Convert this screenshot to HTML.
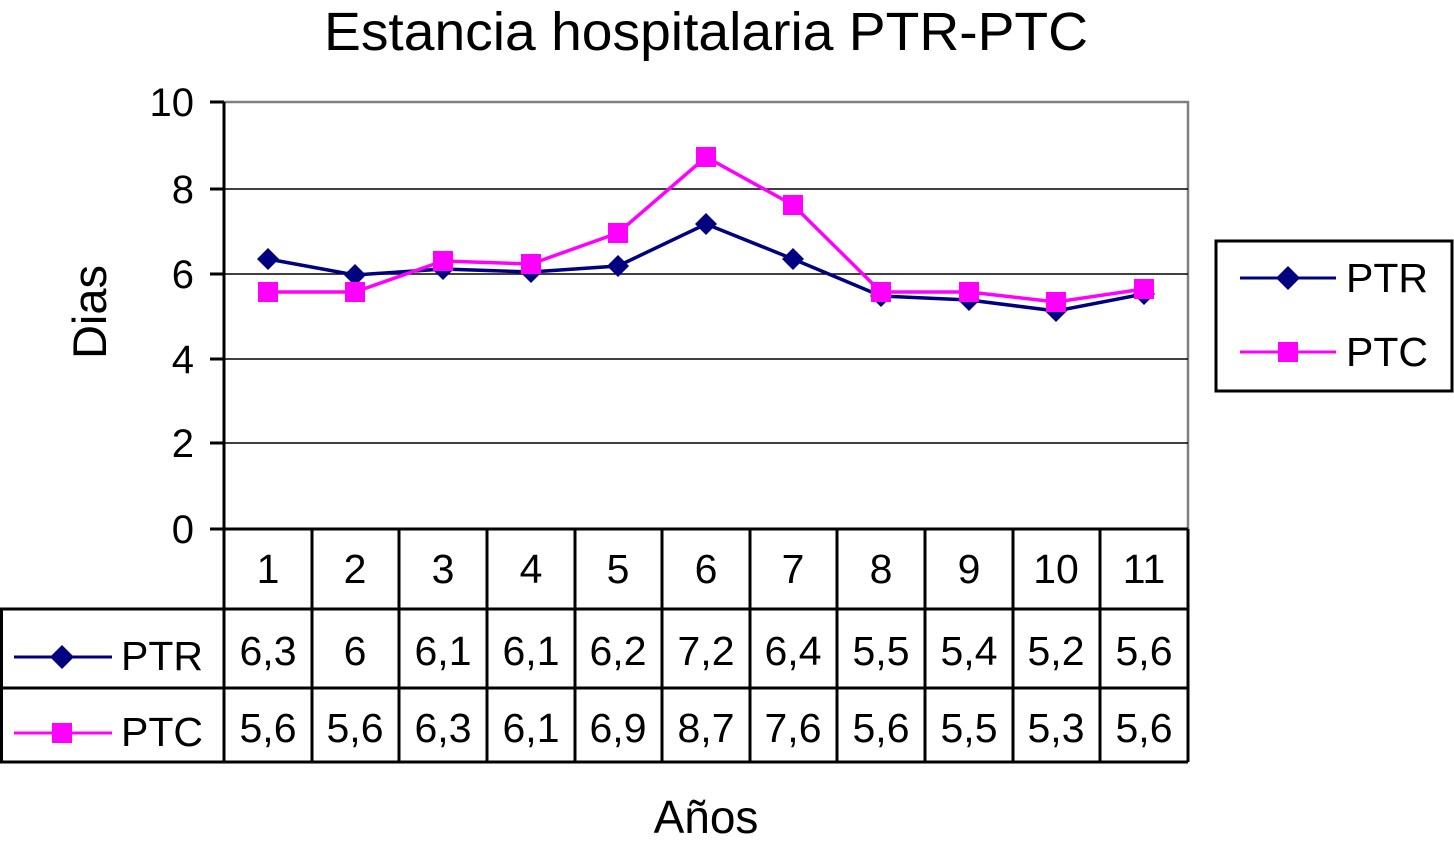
<!DOCTYPE html>
<html><head><meta charset="utf-8"><style>
html,body{margin:0;padding:0;background:#fff;}
svg{display:block;font-family:"Liberation Sans",Arial,sans-serif;}
</style></head><body>
<svg width="1454" height="843" viewBox="0 0 1454 843" xmlns="http://www.w3.org/2000/svg">
<text x="706" y="50" font-size="54" text-anchor="middle" textLength="764" lengthAdjust="spacingAndGlyphs">Estancia hospitalaria PTR-PTC</text>
<rect x="224" y="102" width="964" height="427" fill="#fff" stroke="#808080" stroke-width="2.5"/>
<g stroke="#000" stroke-width="1.5">
<line x1="224" y1="189" x2="1188" y2="189"/>
<line x1="224" y1="274" x2="1188" y2="274"/>
<line x1="224" y1="359" x2="1188" y2="359"/>
<line x1="224" y1="443" x2="1188" y2="443"/>
</g>
<line x1="224" y1="102" x2="224" y2="762" stroke="#000" stroke-width="3"/>
<g stroke="#000" stroke-width="3">
<line x1="210" y1="102" x2="224" y2="102"/>
<line x1="210" y1="189" x2="224" y2="189"/>
<line x1="210" y1="274" x2="224" y2="274"/>
<line x1="210" y1="359" x2="224" y2="359"/>
<line x1="210" y1="443" x2="224" y2="443"/>
<line x1="210" y1="529" x2="224" y2="529"/>
</g>
<g font-size="40" text-anchor="end">
<text x="194" y="116">10</text>
<text x="194" y="203">8</text>
<text x="194" y="288">6</text>
<text x="194" y="373">4</text>
<text x="194" y="457">2</text>
<text x="194" y="543">0</text>
</g>
<text transform="translate(106,312) rotate(-90)" font-size="47" text-anchor="middle">Dias</text>
<g stroke="#000" stroke-width="3" fill="none">
<line x1="224" y1="529" x2="1188" y2="529"/>
<line x1="0" y1="609" x2="1188" y2="609"/>
<line x1="0" y1="688" x2="1188" y2="688"/>
<line x1="0" y1="762" x2="1188" y2="762"/>
<line x1="1.5" y1="609" x2="1.5" y2="762"/>
<line x1="1188" y1="529" x2="1188" y2="762"/>
<line x1="312" y1="529" x2="312" y2="762"/>
<line x1="399" y1="529" x2="399" y2="762"/>
<line x1="487" y1="529" x2="487" y2="762"/>
<line x1="575" y1="529" x2="575" y2="762"/>
<line x1="662" y1="529" x2="662" y2="762"/>
<line x1="750" y1="529" x2="750" y2="762"/>
<line x1="837" y1="529" x2="837" y2="762"/>
<line x1="925" y1="529" x2="925" y2="762"/>
<line x1="1013" y1="529" x2="1013" y2="762"/>
<line x1="1100" y1="529" x2="1100" y2="762"/>
</g>
<g font-size="41" text-anchor="middle">
<text x="268" y="583">1</text><text x="355" y="583">2</text><text x="443" y="583">3</text><text x="531" y="583">4</text><text x="618" y="583">5</text><text x="706" y="583">6</text><text x="793" y="583">7</text><text x="881" y="583">8</text><text x="969" y="583">9</text><text x="1056" y="583">10</text><text x="1144" y="583">11</text>
<text x="268" y="665">6,3</text><text x="355" y="665">6</text><text x="443" y="665">6,1</text><text x="531" y="665">6,1</text><text x="618" y="665">6,2</text><text x="706" y="665">7,2</text><text x="793" y="665">6,4</text><text x="881" y="665">5,5</text><text x="969" y="665">5,4</text><text x="1056" y="665">5,2</text><text x="1144" y="665">5,6</text>
<text x="268" y="742">5,6</text><text x="355" y="742">5,6</text><text x="443" y="742">6,3</text><text x="531" y="742">6,1</text><text x="618" y="742">6,9</text><text x="706" y="742">8,7</text><text x="793" y="742">7,6</text><text x="881" y="742">5,6</text><text x="969" y="742">5,5</text><text x="1056" y="742">5,3</text><text x="1144" y="742">5,6</text>
</g>
<g font-size="41">
<text x="121" y="670">PTR</text>
<text x="121" y="746">PTC</text>
</g>
<line x1="14" y1="657" x2="112" y2="657" stroke="#000080" stroke-width="3"/>
<path d="M62 645 L74 657 L62 669 L50 657Z" fill="#000080"/>
<line x1="14" y1="733" x2="112" y2="733" stroke="#ff00ff" stroke-width="3"/>
<rect x="52" y="723" width="20" height="20" fill="#ff00ff"/>
<polyline fill="none" stroke="#000080" stroke-width="3.5" points="268,259 355,275 443,269 531,272 618,266 706,224 793,259 881,296 969,300 1056,311 1144,294"/>
<polyline fill="none" stroke="#ff00ff" stroke-width="3.5" points="268,292 355,292 443,261 531,264 618,233 706,157 793,205 881,292 969,292 1056,302 1144,289"/>
<g fill="#000080">
<path d="M268 248l11 11-11 11-11-11z"/><path d="M355 264l11 11-11 11-11-11z"/><path d="M443 258l11 11-11 11-11-11z"/><path d="M531 261l11 11-11 11-11-11z"/><path d="M618 255l11 11-11 11-11-11z"/><path d="M706 213l11 11-11 11-11-11z"/><path d="M793 248l11 11-11 11-11-11z"/><path d="M881 285l11 11-11 11-11-11z"/><path d="M969 289l11 11-11 11-11-11z"/><path d="M1056 300l11 11-11 11-11-11z"/><path d="M1144 283l11 11-11 11-11-11z"/>
</g>
<g fill="#ff00ff">
<rect x="258" y="282" width="20" height="20"/><rect x="345" y="282" width="20" height="20"/><rect x="433" y="251" width="20" height="20"/><rect x="521" y="254" width="20" height="20"/><rect x="608" y="223" width="20" height="20"/><rect x="696" y="147" width="20" height="20"/><rect x="783" y="195" width="20" height="20"/><rect x="871" y="282" width="20" height="20"/><rect x="959" y="282" width="20" height="20"/><rect x="1046" y="292" width="20" height="20"/><rect x="1134" y="279" width="20" height="20"/>
</g>
<rect x="1216" y="241" width="236" height="150" fill="#fff" stroke="#000" stroke-width="3"/>
<line x1="1240" y1="278" x2="1336" y2="278" stroke="#000080" stroke-width="3"/>
<path d="M1288 266l12 12-12 12-12-12z" fill="#000080"/>
<line x1="1240" y1="352" x2="1336" y2="352" stroke="#ff00ff" stroke-width="3"/>
<rect x="1278" y="342" width="20" height="20" fill="#ff00ff"/>
<g font-size="41"><text x="1346" y="292">PTR</text><text x="1346" y="366">PTC</text></g>
<text x="706" y="833" font-size="46" text-anchor="middle">Años</text>
</svg>
</body></html>
